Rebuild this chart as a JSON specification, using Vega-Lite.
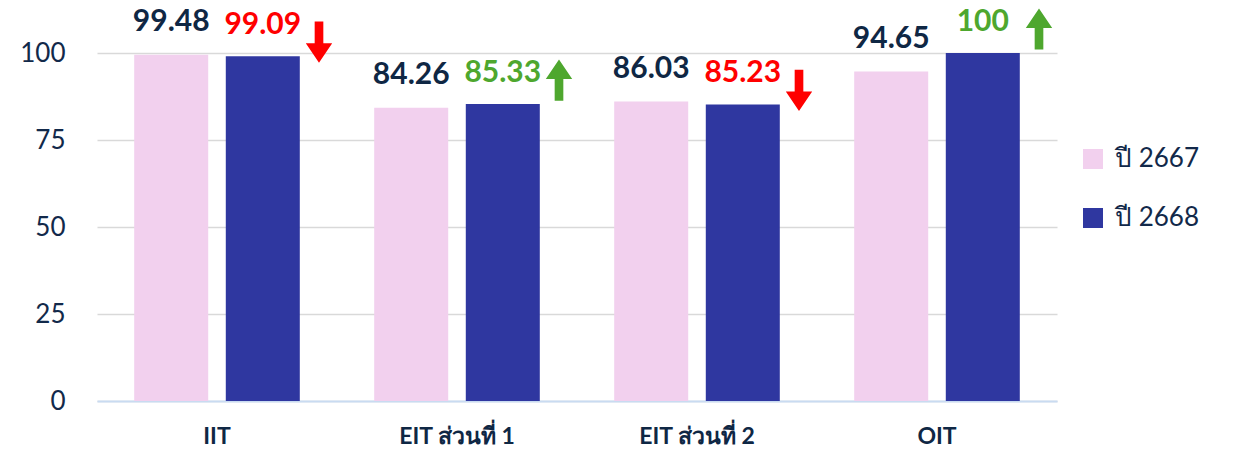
{
  "$schema": "https://vega.github.io/schema/vega-lite/v6.json",
  "autosize": {"type": "none"},
  "width": 960,
  "height": 348,
  "padding": {"left": 97, "top": 53, "right": 178, "bottom": 54},
  "background": "white",
  "config": {
    "view": {"stroke": null},
    "font": "Lato, Noto Sans, sans-serif"
  },
  "data": {
    "values": [
      {"category": "IIT", "series": "ปี 2667", "value": 99.48, "trend": ""},
      {"category": "IIT", "series": "ปี 2668", "value": 99.09, "trend": "down"},
      {"category": "EIT ส่วนที่ 1", "series": "ปี 2667", "value": 84.26, "trend": ""},
      {"category": "EIT ส่วนที่ 1", "series": "ปี 2668", "value": 85.33, "trend": "up"},
      {"category": "EIT ส่วนที่ 2", "series": "ปี 2667", "value": 86.03, "trend": ""},
      {"category": "EIT ส่วนที่ 2", "series": "ปี 2668", "value": 85.23, "trend": "down"},
      {"category": "OIT", "series": "ปี 2667", "value": 94.65, "trend": ""},
      {"category": "OIT", "series": "ปี 2668", "value": 100, "trend": "up"}
    ]
  },
  "encoding": {
    "x": {
      "field": "category",
      "type": "nominal",
      "sort": null,
      "scale": {"paddingInner": 0.31, "paddingOuter": 0.155},
      "axis": {
        "title": null,
        "labelAngle": 0,
        "labelFontSize": 23,
        "labelFontWeight": "bold",
        "labelColor": "#0F2744",
        "labelPadding": 24,
        "ticks": false,
        "domainColor": "#C9DBF1",
        "domainWidth": 2,
        "grid": false
      }
    },
    "y": {
      "field": "value",
      "type": "quantitative",
      "scale": {"domain": [0, 100], "nice": false},
      "axis": {
        "title": null,
        "values": [0, 25, 50, 75, 100],
        "labelFontSize": 26,
        "labelColor": "#12294A",
        "labelPadding": 32,
        "ticks": false,
        "domain": false,
        "gridColor": "#D9D9D9",
        "gridWidth": 1.5
      }
    }
  },
  "layer": [
    {
      "mark": {"type": "bar"},
      "encoding": {
        "xOffset": {"field": "series", "type": "nominal", "scale": {"paddingInner": 0.192, "paddingOuter": 0}},
        "color": {
          "field": "series",
          "type": "nominal",
          "scale": {"domain": ["ปี 2667", "ปี 2668"], "range": ["#F2D0EE", "#2F37A0"]},
          "legend": {
            "title": null,
            "orient": "none",
            "legendX": 983,
            "legendY": 93,
            "symbolType": "square",
            "symbolSize": 400,
            "symbolStrokeWidth": 0,
            "labelFontSize": 26,
            "labelColor": "#12294A",
            "labelOffset": 9,
            "rowPadding": 33
          }
        }
      }
    },
    {
      "transform": [{"filter": "datum.series === 'ปี 2667'"}],
      "mark": {"type": "text", "baseline": "alphabetic", "dy": -24, "fontSize": 30, "fontWeight": "bold", "color": "#0F2744"},
      "encoding": {
        "xOffset": {"field": "series", "type": "nominal", "scale": {"domain": ["ปี 2667", "ปี 2668"]}},
        "text": {"field": "value", "type": "quantitative", "format": ".2~f"}
      }
    },
    {
      "transform": [{"filter": "datum.series === 'ปี 2668'"}],
      "mark": {"type": "text", "baseline": "alphabetic", "dy": -22, "fontSize": 30, "fontWeight": "bold"},
      "encoding": {
        "xOffset": {"field": "series", "type": "nominal", "scale": {"domain": ["ปี 2667", "ปี 2668"]}},
        "text": {"field": "value", "type": "quantitative", "format": ".2~f"},
        "color": {"condition": {"test": "datum.trend === 'up'", "value": "#4EA72E"}, "value": "#FF0000"}
      }
    },
    {
      "transform": [{"filter": "datum.trend === 'up'"}],
      "mark": {"type": "point", "filled": true, "opacity": 1, "size": 1700, "color": "#4EA72E", "xOffset": 102, "yOffset": -24,
        "shape": "M-0.21,1L0.21,1L0.21,-0.05L0.64,-0.05L0,-1L-0.64,-0.05L-0.21,-0.05Z"},
      "encoding": {}
    },
    {
      "transform": [{"filter": "datum.trend === 'down'"}],
      "mark": {"type": "point", "filled": true, "opacity": 1, "size": 1700, "color": "#FF0000", "xOffset": 102, "yOffset": -14,
        "shape": "M-0.21,-1L0.21,-1L0.21,0.05L0.64,0.05L0,1L-0.64,0.05L-0.21,0.05Z"},
      "encoding": {}
    }
  ]
}
